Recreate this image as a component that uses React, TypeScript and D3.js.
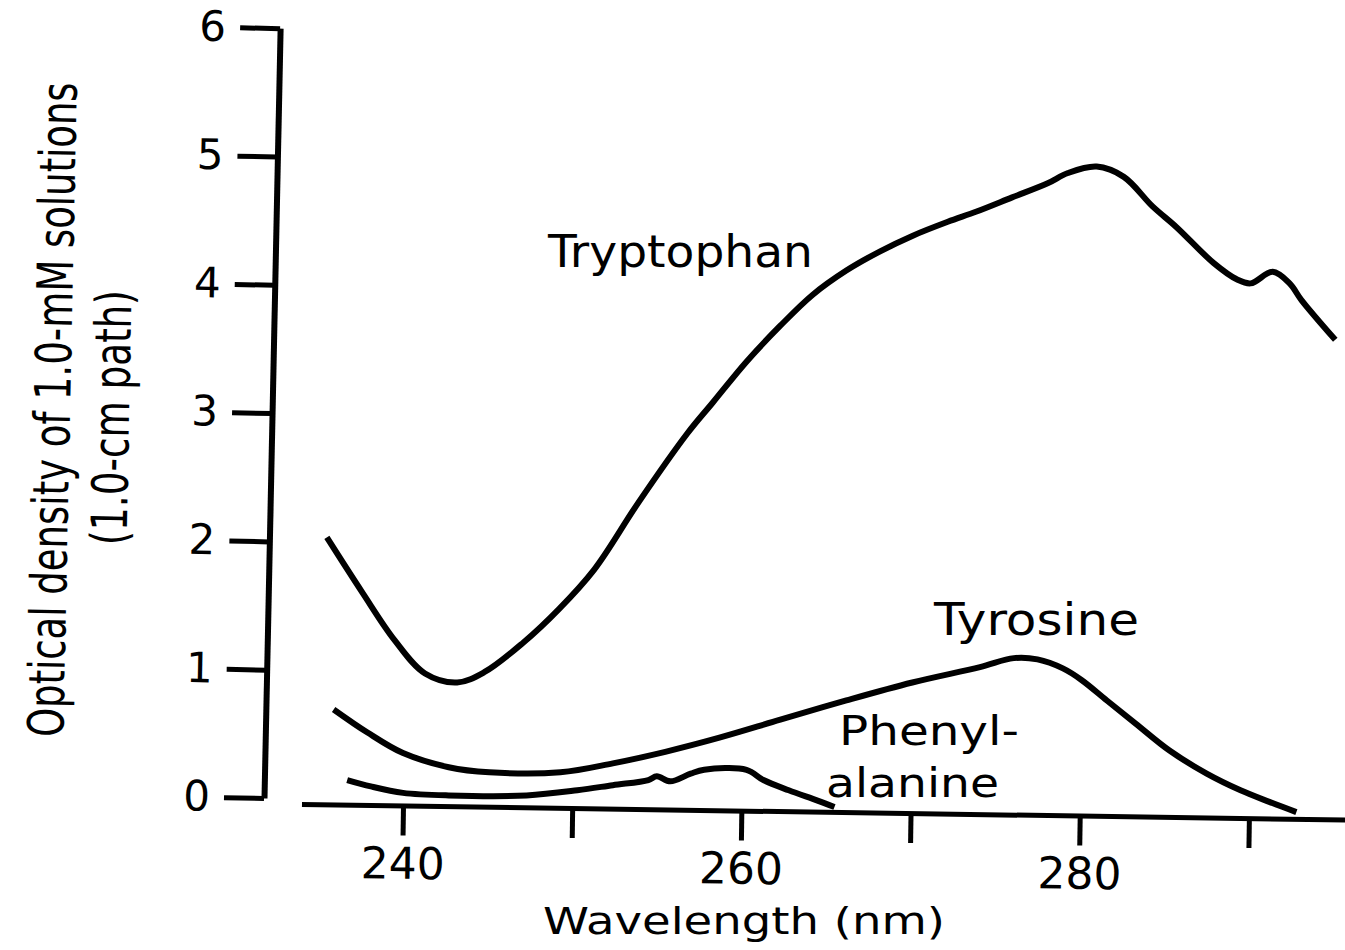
import React, { useEffect, useRef } from 'react'
import * as d3 from 'd3'

// absorption spectra (wavelength nm, optical density)
const tryptophanNm = [235.5, 237.6, 239.5, 241.3, 243.2, 244.8, 247.1, 249.2, 251.3, 253.9, 256.8, 258.3, 260.3, 262.3, 264.2, 266.2, 268.2, 270.1, 272.2, 273.9, 276.0, 278.1, 279.3, 281.0, 282.6, 284.3, 285.7, 287.9, 289.3, 290.1, 291.4, 292.4, 293.1, 295.1]
const tryptophanOd = [2.03, 1.6, 1.23, 0.97, 0.9, 0.98, 1.21, 1.47, 1.78, 2.3, 2.84, 3.08, 3.4, 3.68, 3.92, 4.11, 4.26, 4.38, 4.49, 4.57, 4.68, 4.79, 4.87, 4.92, 4.84, 4.61, 4.45, 4.17, 4.04, 4.01, 4.1, 4.01, 3.88, 3.57]

const tyrosineNm = [235.9, 237.9, 240.0, 242.7, 245.1, 249.3, 252.4, 255.5, 258.7, 262.3, 266.2, 270.1, 274.1, 276.1, 277.5, 279.0, 280.1, 281.6, 283.3, 285.3, 287.5, 289.5, 291.2, 292.8]
const tyrosineOd = [0.69, 0.51, 0.35, 0.24, 0.2, 0.2, 0.27, 0.36, 0.47, 0.61, 0.76, 0.9, 1.02, 1.09, 1.08, 1.01, 0.92, 0.76, 0.58, 0.37, 0.19, 0.06, -0.03, -0.11]

const phenylalanineNm = [236.7, 238.1, 240.0, 242.7, 247.3, 250.3, 252.4, 254.5, 255.0, 255.8, 257.0, 257.8, 260.3, 261.3, 262.8, 264.5, 265.5]
const phenylalanineOd = [0.14, 0.09, 0.04, 0.02, 0.02, 0.06, 0.1, 0.14, 0.17, 0.13, 0.19, 0.22, 0.22, 0.14, 0.06, -0.02, -0.07]

const xTicks = [240, 250, 260, 270, 280, 290]
const xLabelled = [240, 260, 280]
const yTicks = [0, 1, 2, 3, 4, 5, 6]

const FONT = 'DejaVu Sans'

const App = () => {
  const ref = useRef<SVGSVGElement>(null)

  useEffect(() => {
    draw()
  })

  const draw = () => {
    const svg = d3.select(ref.current)
    svg.selectAll('*').remove()

    const x = d3.scaleLinear().domain([234, 297.4]).range([301.5, 1374.2])
    const y = d3.scaleLinear().domain([0, 6]).range([798, 28])

    // x axis (scan is tilted slightly clockwise)
    const xAxis = svg
      .append('g')
      .attr('transform', 'translate(0,804) rotate(0.85,300,0)')
      .call(
        d3
          .axisBottom(x)
          .tickValues(xTicks)
          .tickFormat((d) => (xLabelled.includes(+d) ? String(d) : ''))
          .tickSize(30)
          .tickSizeOuter(0)
          .tickPadding(12)
      )
    xAxis.select('.domain').attr('stroke', '#000').attr('stroke-width', 5)
    xAxis.selectAll('.tick line').attr('stroke', '#000').attr('stroke-width', 5)
    xAxis.selectAll('text').attr('font-size', 44).attr('font-family', FONT).attr('fill', '#000')

    // y axis
    const yAxis = svg
      .append('g')
      .attr('transform', 'translate(264,0) rotate(1.2,0,798)')
      .call(
        d3
          .axisLeft(y)
          .tickValues(yTicks)
          .tickFormat(d3.format('d'))
          .tickSize(40)
          .tickSizeOuter(0)
          .tickPadding(14)
      )
    yAxis.select('.domain').attr('stroke', '#000').attr('stroke-width', 6)
    yAxis.selectAll('.tick line').attr('stroke', '#000').attr('stroke-width', 5)
    yAxis.selectAll('text').attr('font-size', 42).attr('font-family', FONT).attr('fill', '#000')

    const line = d3
      .line<[number, number]>()
      .x((d) => x(d[0]))
      .y((d) => y(d[1]))
      .curve(d3.curveCatmullRom.alpha(0.5))

    const series: [number[], number[]][] = [
      [tryptophanNm, tryptophanOd],
      [tyrosineNm, tyrosineOd],
      [phenylalanineNm, phenylalanineOd],
    ]
    series.forEach(([nm, od]) => {
      svg
        .append('path')
        .datum(nm.map((w, i) => [w, od[i]] as [number, number]))
        .attr('d', line)
        .attr('fill', 'none')
        .attr('stroke', '#000')
        .attr('stroke-width', 6)
        .attr('stroke-linejoin', 'round')
    })

    // text squeezed/stretched along its baseline to the width seen in the scan
    const label = (t: string, lx: number, ly: number, size: number, len: number, angle = 0, anchor = 'start') => {
      const txt = svg
        .append('text')
        .attr('font-family', FONT)
        .attr('font-size', size)
        .attr('text-anchor', anchor)
        .attr('fill', '#000')
        .text(t)
      const natural = (txt.node() as SVGTextElement).getComputedTextLength() || len
      const sx = len / natural
      txt.attr('transform', `translate(${lx},${ly}) rotate(${angle}) scale(${sx},1)`)
    }
    label('Tryptophan', 548, 267, 44, 265)
    label('Tyrosine', 934, 635, 44, 205)
    label('Phenyl-', 839, 745, 40, 180)
    label('alanine', 826, 797, 40, 173)
    label('Wavelength (nm)', 543, 934, 38, 402)

    // y title, two rotated lines
    label('Optical density of 1.0-mM solutions', 70, 410, 50, 655, -88.8, 'middle')
    label('(1.0-cm path)', 129, 418, 50, 255, -88.8, 'middle')
  }

  return (
    <svg
      ref={ref}
      width={1345}
      height={950}
      style={{ position: 'absolute', left: 0, top: 0, background: '#fff' }}
    />
  )
}

export default App
